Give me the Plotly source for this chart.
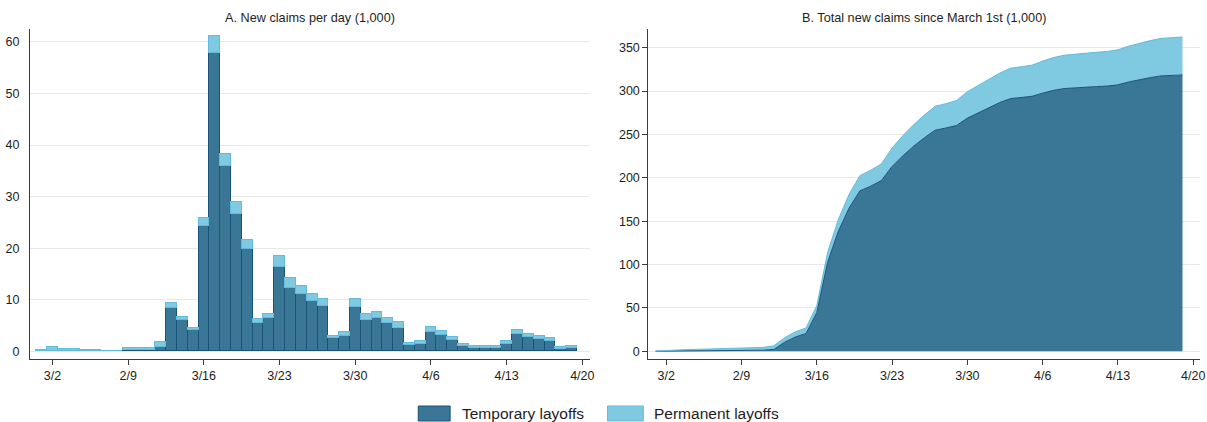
import numpy as np
import pandas as pd
import plotly.graph_objects as go

# Daily new unemployment claims (thousands), March 1 - April 19
days = pd.date_range("2020-03-01", "2020-04-19", freq="D")

temporary_layoffs = [
    0.10, 0.10, 0.10, 0.10, 0.10, 0.10, 0.10, 0.10, 0.15, 0.15, 0.15, 0.90,   # 3/1 - 3/12
    8.30, 6.00, 4.10,                                                         # 3/13 - 3/15
    24.2, 57.8, 35.9, 26.7, 19.8, 5.40, 6.50,                                 # 3/16 - 3/22
    16.3, 12.2, 11.1, 9.70, 8.80, 2.50, 2.90,                                 # 3/23 - 3/29
    8.50, 6.00, 6.40, 5.50, 4.60, 1.20, 1.40,                                 # 3/30 - 4/5
    3.70, 3.20, 2.10, 0.95, 0.70, 0.60, 0.60,                                 # 4/6 - 4/12
    1.45, 3.30, 2.70, 2.30, 2.00, 0.45, 0.60,                                 # 4/13 - 4/19
]

permanent_layoffs = [
    0.20, 0.70, 0.40, 0.30, 0.20, 0.20, 0.00, 0.00, 0.40, 0.40, 0.40, 0.90,   # 3/1 - 3/12
    1.15, 0.70, 0.45,                                                         # 3/13 - 3/15
    1.60, 3.30, 2.30, 2.20, 1.75, 0.80, 0.80,                                 # 3/16 - 3/22
    2.10, 2.00, 1.55, 1.40, 1.35, 0.50, 0.80,                                 # 3/23 - 3/29
    1.65, 1.20, 1.25, 1.00, 1.00, 0.50, 0.50,                                 # 3/30 - 4/5
    1.00, 0.80, 0.65, 0.47, 0.39, 0.33, 0.33,                                 # 4/6 - 4/12
    0.45, 0.90, 0.70, 0.70, 0.52, 0.29, 0.33,                                 # 4/13 - 4/19
]

tick_dates = ["2020-03-02", "2020-03-09", "2020-03-16", "2020-03-23",
              "2020-03-30", "2020-04-06", "2020-04-13", "2020-04-20"]
tick_labels = ["3/2", "2/9", "3/16", "3/23", "3/30", "4/6", "4/13", "4/20"]

# Running totals since March 1st
cum_temporary = np.cumsum(temporary_layoffs)
cum_permanent = np.cumsum(permanent_layoffs)

TEMP_FILL = "rgb(58,119,151)"
TEMP_EDGE = "rgb(26,82,122)"
PERM_FILL = "rgb(127,201,225)"
PERM_EDGE = "rgb(98,187,220)"
AXIS = "rgb(60,60,60)"
GRID = "rgb(232,232,232)"
FONT = "Liberation Sans, Arial, sans-serif"

W, H = 1207, 422


def px_x(p):
    return p / W


def px_y(p):
    return 1 - p / H


fig = go.Figure()

# Panel A: stacked daily bars
fig.add_trace(go.Bar(
    x=days, y=temporary_layoffs, name="Temporary layoffs",
    marker=dict(color=TEMP_FILL, line=dict(color=TEMP_EDGE, width=1)),
    xaxis="x", yaxis="y", showlegend=False,
))
fig.add_trace(go.Bar(
    x=days, y=permanent_layoffs, name="Permanent layoffs",
    marker=dict(color=PERM_FILL, line=dict(color=PERM_EDGE, width=1)),
    xaxis="x", yaxis="y", showlegend=False,
))

# Panel B: stacked cumulative areas
fig.add_trace(go.Scatter(
    x=days, y=cum_temporary, name="Temporary layoffs", mode="lines",
    stackgroup="cum", fillcolor=TEMP_FILL, line=dict(color=TEMP_EDGE, width=1),
    xaxis="x2", yaxis="y2", showlegend=False,
))
fig.add_trace(go.Scatter(
    x=days, y=cum_permanent, name="Permanent layoffs", mode="lines",
    stackgroup="cum", fillcolor=PERM_FILL, line=dict(color=PERM_EDGE, width=1),
    xaxis="x2", yaxis="y2", showlegend=False,
))

d0 = pd.Timestamp("2020-03-02")
left_range = [d0 - pd.Timedelta(days=2.09), d0 + pd.Timedelta(days=49.67)]
right_range = [d0 - pd.Timedelta(days=1.67), d0 + pd.Timedelta(days=49.63)]

ydom = [px_y(359), px_y(29)]

xcommon = dict(
    type="date", tickmode="array", tickvals=tick_dates, ticktext=tick_labels,
    ticks="outside", ticklen=5, tickcolor=AXIS, showline=True, linecolor=AXIS,
    linewidth=1, showgrid=False, zeroline=False,
    tickfont=dict(family=FONT, size=12.5, color="rgb(30,30,30)"),
)
ycommon = dict(
    showline=True, linecolor=AXIS, linewidth=1, showgrid=True, gridcolor=GRID,
    gridwidth=1, zeroline=False,
    tickfont=dict(family=FONT, size=12.5, color="rgb(30,30,30)"),
)

fig.update_layout(
    width=W, height=H,
    margin=dict(l=0, r=0, t=0, b=0),
    paper_bgcolor="white", plot_bgcolor="white",
    barmode="stack", bargap=0,
    font=dict(family=FONT, size=12, color="rgb(30,30,30)"),
    xaxis=dict(domain=[px_x(30), px_x(592)], range=left_range, anchor="y", **xcommon),
    yaxis=dict(domain=ydom, range=[-1.5, 62.5], tickvals=[0, 10, 20, 30, 40, 50, 60],
               ticks="", ticklabelstandoff=7, anchor="x", **ycommon),
    xaxis2=dict(domain=[px_x(651), px_x(1205)], range=right_range, anchor="y2", **xcommon),
    yaxis2=dict(domain=ydom, range=[-8.9, 371.6], tickvals=list(range(0, 351, 50)),
                ticks="outside", ticklen=5, tickcolor=AXIS, anchor="x2", **ycommon),
    showlegend=False,
)

# Panel titles
fig.add_annotation(text="A. New claims per day (1,000)", x=px_x(311), y=px_y(18),
                   xref="paper", yref="paper", xanchor="center", yanchor="middle",
                   showarrow=False, font=dict(family=FONT, size=12.7, color="rgb(30,30,30)"))
fig.add_annotation(text="B. Total new claims since March 1st (1,000)", x=px_x(928), y=px_y(18),
                   xref="paper", yref="paper", xanchor="center", yanchor="middle",
                   showarrow=False, font=dict(family=FONT, size=12.7, color="rgb(30,30,30)"))

# Shared legend below both panels
legend_items = [
    ("Temporary layoffs", TEMP_FILL, TEMP_EDGE, 420, 452, 462),
    ("Permanent layoffs", PERM_FILL, PERM_EDGE, 610, 646, 655),
]
for label, fill, edge, sx0, sx1, tx in legend_items:
    fig.add_shape(type="rect", xref="paper", yref="paper",
                  x0=px_x(sx0), x1=px_x(sx1), y0=px_y(421), y1=px_y(406),
                  fillcolor=fill, line=dict(color=edge, width=1))
    fig.add_annotation(text=label, x=px_x(tx), y=px_y(413.5), xref="paper", yref="paper",
                       xanchor="left", yanchor="middle", showarrow=False,
                       font=dict(family=FONT, size=15.5, color="rgb(30,30,30)"))

fig.write_html("out.html")
